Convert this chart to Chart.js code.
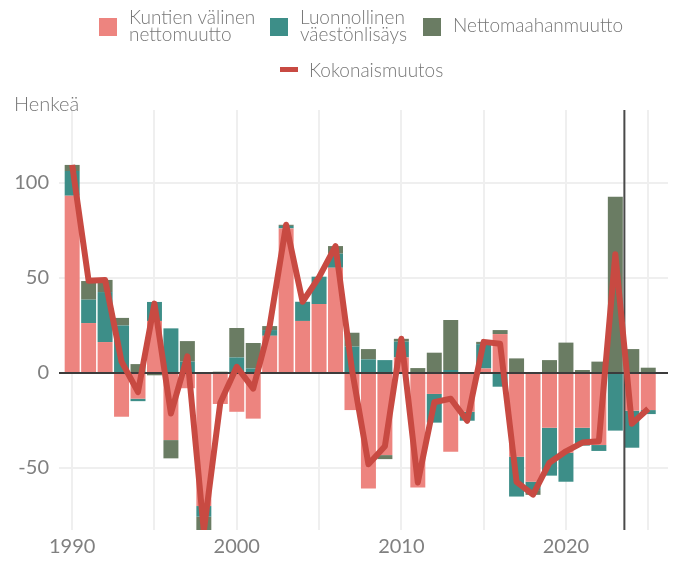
<!DOCTYPE html>
<html>
<head>
<meta charset="utf-8">
<script src="https://cdn.jsdelivr.net/npm/chart.js@4.4.1/dist/chart.umd.min.js"></script>
<style>
  html, body { margin: 0; padding: 0; background: #ffffff; }
  #wrap { position: relative; width: 675px; height: 561px; overflow: hidden; }
  #c { position: absolute; left: 0; top: 0; }
  .lg { position: absolute; font-family: Lato, "Open Sans", sans-serif; font-weight: 300; font-size: 19px; line-height: 17px; color: #777777; white-space: nowrap; }
  .box { position: absolute; width: 18px; height: 18px; }
  #ytitle { position: absolute; left: 14px; top: 93px; font-family: Lato, "Open Sans", sans-serif; font-weight: 300; font-size: 20px; line-height: 20px; color: #777777; }
</style>
</head>
<body>
<div id="wrap">
  <canvas id="c" width="675" height="561"></canvas>
  <div class="box" style="left:99px; top:18px; background:#ed847f;"></div>
  <div class="lg" style="left:129px; top:8px;">Kuntien välinen<br>nettomuutto</div>
  <div class="box" style="left:270px; top:18px; background:#3d8e88;"></div>
  <div class="lg" style="left:300px; top:8px;">Luonnollinen<br>väestönlisäys</div>
  <div class="box" style="left:423px; top:18px; background:#6a7c63;"></div>
  <div class="lg" style="left:453px; top:16px;">Nettomaahanmuutto</div>
  <div class="box" style="left:280px; top:67px; height:5px; background:#c84a42;"></div>
  <div class="lg" style="left:309px; top:61px;">Kokonaismuutos</div>
  <div id="ytitle">Henkeä</div>
</div>
<script>
const years = [1990,1991,1992,1993,1994,1995,1996,1997,1998,1999,
               2000,2001,2002,2003,2004,2005,2006,2007,2008,2009,
               2010,2011,2012,2013,2014,2015,2016,2017,2018,2019,
               2020,2021,2022,2023,2024,2025];

// Kuntien välinen nettomuutto
const kuntienValinen = [93.3,26.3,16.3,-23,-13.5,27.4,-35.3,-8,-70,-16.3,
                        -20.4,-24,19.6,76.1,27.4,36.3,55.4,-19.5,-60.7,-43.2,
                        8.2,-60.2,-11,-41.4,-20.4,2.4,20.5,-44,-57.2,-28.8,
                        -41.9,-28.8,-37.9,0,-19.8,-19.5];
// Luonnollinen väestönlisäys
const luonnollinen = [13,12.3,26.3,25,-1.3,10,23.5,6,-5.6,0,
                      8.2,2.4,3,1.3,10.1,14.4,7.4,13.9,7.2,6.8,
                      8.3,0,-15.1,1.6,-4.7,12.8,-7.2,-21,-4.4,-25.2,
                      -15.3,-9.4,-3.1,-30.3,-19.5,-2.1];
// Nettomaahanmuutto
const nettomaahanmuutto = [3.2,9.8,6.4,4,4.7,-1.2,-9.6,10.8,-7,0.7,
                           15.5,13.4,2.1,0.6,0,0,4,7.3,5.4,-2.1,
                           1.5,2.6,10.7,26.3,0,1.2,2.1,7.7,-2.5,6.8,
                           16,1.6,6,92.8,12.6,2.8];
// Kokonaismuutos
const kokonaismuutos = [109.5,48.5,49,6,-10,36.5,-21.3,8.8,-83,-15.6,
                        3.3,-8.2,24.7,78,37.5,50.5,66.8,1.7,-48,-38.5,
                        18,-57.6,-15.4,-13.5,-25.1,16.4,15.4,-57.3,-64,-47.2,
                        -41.2,-36.6,-35.9,62.5,-26.7,-18.8];

const xTicks = [1990,1995,2000,2005,2010,2015,2020,2025];
const yTicks = [-50,0,50,100];
const markerYear = 2023.55;

const pts = arr => years.map((yr, i) => ({x: yr, y: arr[i]}));

const refLines = {
  id: 'refLines',
  beforeDatasetDraw(chart, args) {
    if (args.index !== 3) return;
    const {ctx, chartArea, scales} = chart;
    const y0 = scales.y.getPixelForValue(0);
    const xm = scales.x.getPixelForValue(markerYear);
    ctx.save();
    ctx.strokeStyle = '#000000';
    ctx.lineWidth = 1.5;
    ctx.beginPath();
    ctx.moveTo(chartArea.left, y0);
    ctx.lineTo(chartArea.right, y0);
    ctx.stroke();
    ctx.strokeStyle = '#4a4a4a';
    ctx.lineWidth = 2;
    ctx.beginPath();
    ctx.moveTo(xm, chartArea.top);
    ctx.lineTo(xm, chartArea.bottom);
    ctx.stroke();
    ctx.restore();
  }
};

const barCommon = { type: 'bar', stack: 'osat', order: 1, barPercentage: 0.91, categoryPercentage: 1.0, borderWidth: 0 };

new Chart(document.getElementById('c'), {
  data: {
    datasets: [
      Object.assign({ label: 'Kuntien välinen nettomuutto', data: pts(kuntienValinen), backgroundColor: '#ed847f' }, barCommon),
      Object.assign({ label: 'Luonnollinen väestönlisäys', data: pts(luonnollinen), backgroundColor: '#3d8e88' }, barCommon),
      Object.assign({ label: 'Nettomaahanmuutto', data: pts(nettomaahanmuutto), backgroundColor: '#6a7c63' }, barCommon),
      { type: 'line', label: 'Kokonaismuutos', data: pts(kokonaismuutos), stack: 'kokonais', order: 0,
        borderColor: '#c84a42', borderWidth: 6, pointRadius: 0, tension: 0,
        borderJoinStyle: 'round', borderCapStyle: 'butt', clip: 0, fill: false }
    ]
  },
  options: {
    responsive: false,
    animation: false,
    layout: { padding: { top: 110, right: 7, left: 0, bottom: 0 } },
    plugins: { legend: { display: false }, tooltip: { enabled: false }, title: { display: false } },
    scales: {
      x: {
        type: 'linear', stacked: true, min: 1989.2, max: 2026.2, offset: false,
        afterBuildTicks: s => { s.ticks = xTicks.map(v => ({value: v})); },
        afterFit: s => { s.height = 31; },
        ticks: { autoSkip: false, maxRotation: 0, padding: 5, color: '#808080',
                 font: { family: 'Lato', size: 20, weight: 400 },
                 callback: v => (v % 10 === 0 ? String(v) : '') },
        grid: { color: '#efefef', lineWidth: 2, drawTicks: false, offset: false },
        border: { display: false }
      },
      y: {
        type: 'linear', stacked: true, min: -82.6, max: 138.4,
        afterBuildTicks: s => { s.ticks = yTicks.map(v => ({value: v})); },
        afterFit: s => { s.width = 59; },
        ticks: { padding: 10, color: '#808080', font: { family: 'Lato', size: 20, weight: 400 } },
        grid: { color: '#efefef', lineWidth: 2, drawTicks: false },
        border: { display: false }
      }
    }
  },
  plugins: [refLines]
});
</script>
</body>
</html>
